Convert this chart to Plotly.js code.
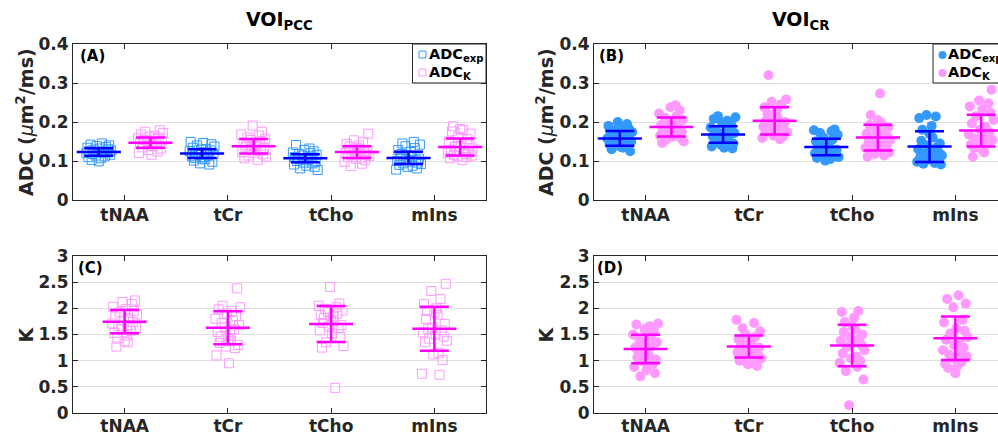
<!DOCTYPE html>
<html>
<head>
<meta charset="utf-8">
<script src="https://cdn.plot.ly/plotly-3.0.1.min.js"></script>
<style>
html,body{margin:0;padding:0;overflow:hidden;background:#fff;}
#chart{width:1012px;height:435px;}
</style>
</head>
<body>
<div id="chart"></div>
<script>
// ---------------- DATA ----------------
const CATS = ['tNAA', 'tCr', 'tCho', 'mIns'];
const CAT_POS = [1, 2, 3, 4];

// ADC (um^2/ms), VOI PCC, per metabolite (tNAA, tCr, tCho, mIns)
const PCC_ADC_EXP = [
  [0.145,0.142,0.140,0.138,0.136,0.134,0.132,0.130,0.129,0.127,0.126,0.125,0.124,0.122,0.121,0.120,0.118,0.116,0.114,0.112,0.110,0.107,0.103,0.099],
  [0.149,0.146,0.143,0.140,0.137,0.134,0.131,0.129,0.127,0.125,0.122,0.120,0.118,0.116,0.114,0.112,0.110,0.108,0.106,0.104,0.101,0.098,0.094,0.091],
  [0.141,0.132,0.128,0.125,0.122,0.120,0.118,0.116,0.114,0.112,0.110,0.108,0.106,0.104,0.102,0.100,0.098,0.096,0.094,0.091,0.088,0.085,0.081,0.077],
  [0.149,0.145,0.142,0.138,0.133,0.128,0.123,0.118,0.114,0.111,0.108,0.106,0.104,0.102,0.100,0.098,0.096,0.094,0.092,0.090,0.088,0.085,0.081,0.078]
];
const PCC_ADC_K = [
  [0.179,0.175,0.172,0.168,0.165,0.162,0.160,0.158,0.156,0.154,0.152,0.150,0.148,0.146,0.144,0.142,0.140,0.138,0.135,0.132,0.128,0.124,0.120,0.116],
  [0.191,0.175,0.168,0.165,0.160,0.157,0.154,0.150,0.147,0.144,0.141,0.139,0.137,0.135,0.132,0.129,0.126,0.123,0.120,0.117,0.114,0.111,0.107,0.103],
  [0.170,0.153,0.148,0.144,0.140,0.137,0.134,0.131,0.129,0.127,0.125,0.123,0.121,0.119,0.117,0.115,0.113,0.111,0.109,0.106,0.102,0.098,0.093,0.087],
  [0.189,0.182,0.179,0.176,0.170,0.162,0.156,0.150,0.145,0.140,0.136,0.132,0.129,0.126,0.124,0.122,0.120,0.118,0.116,0.114,0.112,0.110,0.107,0.103]
];
const PCC_EXP_MEAN = [0.123, 0.119, 0.107, 0.108];
const PCC_EXP_SD   = [0.0095, 0.011, 0.010, 0.0155];
const PCC_K_MEAN   = [0.147, 0.138, 0.123, 0.136];
const PCC_K_SD     = [0.013, 0.0185, 0.015, 0.022];

// ADC, VOI CR
const CR_ADC_EXP = [
  [0.200,0.195,0.190,0.186,0.182,0.178,0.174,0.170,0.167,0.164,0.161,0.158,0.155,0.152,0.150,0.148,0.146,0.144,0.142,0.140,0.137,0.134,0.130,0.125],
  [0.215,0.212,0.208,0.203,0.198,0.192,0.186,0.180,0.176,0.172,0.169,0.166,0.163,0.160,0.157,0.154,0.151,0.148,0.145,0.142,0.140,0.137,0.134,0.132],
  [0.181,0.179,0.176,0.172,0.167,0.160,0.155,0.150,0.146,0.142,0.138,0.135,0.132,0.129,0.126,0.123,0.120,0.117,0.114,0.112,0.110,0.108,0.105,0.101],
  [0.218,0.214,0.210,0.190,0.180,0.170,0.160,0.152,0.145,0.140,0.135,0.130,0.126,0.122,0.118,0.114,0.110,0.107,0.104,0.101,0.098,0.095,0.093,0.091]
];
const CR_ADC_K = [
  [0.243,0.238,0.230,0.222,0.215,0.210,0.205,0.200,0.196,0.192,0.189,0.186,0.183,0.180,0.177,0.174,0.171,0.168,0.165,0.162,0.159,0.155,0.150,0.146],
  [0.320,0.258,0.252,0.245,0.238,0.230,0.222,0.215,0.210,0.205,0.200,0.196,0.192,0.188,0.184,0.180,0.177,0.174,0.171,0.168,0.165,0.162,0.159,0.156],
  [0.273,0.218,0.205,0.198,0.192,0.186,0.180,0.175,0.170,0.166,0.162,0.158,0.154,0.150,0.146,0.142,0.138,0.134,0.130,0.126,0.122,0.118,0.114,0.111],
  [0.283,0.255,0.248,0.240,0.232,0.224,0.215,0.205,0.196,0.188,0.180,0.174,0.168,0.163,0.158,0.154,0.150,0.146,0.142,0.138,0.134,0.130,0.122,0.111]
];
const CR_EXP_MEAN = [0.158, 0.168, 0.136, 0.137];
const CR_EXP_SD   = [0.019, 0.021, 0.021, 0.0395];
const CR_K_MEAN   = [0.187, 0.203, 0.160, 0.178];
const CR_K_SD     = [0.0245, 0.035, 0.033, 0.0405];

// Kurtosis K
const PCC_KURT = [
  [2.15,2.12,2.08,2.03,1.99,1.95,1.92,1.88,1.84,1.80,1.77,1.74,1.71,1.68,1.66,1.63,1.60,1.57,1.53,1.48,1.42,1.37,1.35,1.27],
  [2.38,2.05,2.02,1.98,1.95,1.90,1.85,1.80,1.76,1.72,1.68,1.64,1.60,1.55,1.50,1.46,1.42,1.38,1.34,1.30,1.27,1.24,1.10,0.95],
  [2.41,2.09,2.05,2.02,1.99,1.96,1.93,1.90,1.87,1.84,1.81,1.78,1.75,1.72,1.68,1.65,1.62,1.58,1.52,1.45,1.35,1.28,1.25,0.48],
  [2.47,2.33,2.18,2.08,2.00,1.95,1.92,1.88,1.80,1.70,1.63,1.58,1.54,1.50,1.46,1.42,1.38,1.35,1.15,1.12,1.01,0.75,0.73,1.60]
];
const PCC_KURT_MEAN = [1.745, 1.63, 1.70, 1.61];
const PCC_KURT_SD   = [0.2225, 0.315, 0.344, 0.42];

const CR_KURT = [
  [1.71,1.69,1.66,1.60,1.55,1.50,1.45,1.40,1.35,1.32,1.28,1.25,1.22,1.18,1.14,1.10,1.06,1.02,0.98,0.93,0.88,0.82,0.76,0.70],
  [1.78,1.72,1.62,1.56,1.50,1.45,1.41,1.38,1.35,1.32,1.29,1.27,1.25,1.22,1.19,1.16,1.13,1.10,1.07,1.04,1.00,0.96,0.93,0.90],
  [1.95,1.93,1.82,1.74,1.66,1.60,1.55,1.50,1.45,1.42,1.38,1.34,1.30,1.26,1.20,1.14,1.08,1.04,1.00,0.96,0.88,0.80,0.64,0.15],
  [2.25,2.18,2.09,2.02,1.78,1.73,1.62,1.57,1.52,1.45,1.40,1.36,1.30,1.25,1.20,1.15,1.12,1.08,1.05,0.98,0.94,0.90,0.86,0.76]
];
const CR_KURT_MEAN = [1.223, 1.27, 1.29, 1.43];
const CR_KURT_SD   = [0.27, 0.21, 0.395, 0.415];

// ---------------- STYLE ----------------
const W = 1012, H = 435;
const FONT = 'DejaVu Sans';
const TXT = '#262626';
const BLUE_PT = '#3399ff', PINK_PT = '#ff99ff';
const BLUE_LN = '#0000ff', PINK_LN = '#ff00ff';
// fixed scatter (swarm) offsets used to spread points around each group centre
const JIT = [0.03,-0.08,0.10,-0.02,0.07,-0.11,0.01,0.09,-0.05,0.12,-0.09,0.04,-0.01,0.08,-0.12,0.05,-0.06,0.11,-0.03,0.06,-0.10,0.02,-0.07,0.00];

const px = v => v / W;
const py = v => 1 - v / H;

function pointsTrace(groups, shift, rot, xa, ya, symbol, size, color) {
  const x = [], y = [];
  groups.forEach((g, c) => {
    g.forEach((v, i) => {
      x.push(CAT_POS[c] + shift + JIT[(i + rot + c * 5) % JIT.length]);
      y.push(v);
    });
  });
  const open = symbol.indexOf('open') >= 0;
  return {
    type: 'scatter', mode: 'markers', x, y, xaxis: xa, yaxis: ya,
    hoverinfo: 'skip',
    marker: open
      ? {symbol, size, color, line: {color, width: 1}}
      : {symbol, size, color, line: {width: 0}}
  };
}
function statTrace(means, sds, shift, xa, ya, color) {
  return {
    type: 'scatter', mode: 'markers', xaxis: xa, yaxis: ya, hoverinfo: 'skip',
    x: CAT_POS.map(p => p + shift), y: means,
    marker: {symbol: 'line-ew', size: 31.5, color, line: {color, width: 2.5}},
    error_y: {type: 'data', array: sds, visible: true, color, thickness: 2.5, width: 14.5}
  };
}

const data = [
  pointsTrace(PCC_ADC_EXP, -0.25, 0, 'x', 'y', 'square-open', 9, BLUE_PT),
  pointsTrace(PCC_ADC_K, 0.25, 7, 'x', 'y', 'square-open', 9, PINK_PT),
  statTrace(PCC_EXP_MEAN, PCC_EXP_SD, -0.25, 'x', 'y', BLUE_LN),
  statTrace(PCC_K_MEAN, PCC_K_SD, 0.25, 'x', 'y', PINK_LN),

  pointsTrace(CR_ADC_EXP, -0.25, 3, 'x2', 'y2', 'circle', 10, BLUE_PT),
  pointsTrace(CR_ADC_K, 0.25, 11, 'x2', 'y2', 'circle', 10, PINK_PT),
  statTrace(CR_EXP_MEAN, CR_EXP_SD, -0.25, 'x2', 'y2', BLUE_LN),
  statTrace(CR_K_MEAN, CR_K_SD, 0.25, 'x2', 'y2', PINK_LN),

  pointsTrace(PCC_KURT, 0, 2, 'x3', 'y3', 'square-open', 9, PINK_PT),
  statTrace(PCC_KURT_MEAN, PCC_KURT_SD, 0, 'x3', 'y3', PINK_LN),

  pointsTrace(CR_KURT, 0, 9, 'x4', 'y4', 'circle', 10, PINK_PT),
  statTrace(CR_KURT_MEAN, CR_KURT_SD, 0, 'x4', 'y4', PINK_LN)
];

const tickfont = {family: FONT, size: 17, weight: 'bold', color: TXT};
function xax(dom, anchor, standoff) {
  return {domain: dom, anchor, range: [0.5, 4.5], tickvals: CAT_POS, ticktext: CATS,
    ticks: 'inside', ticklen: 5, tickwidth: 1, tickcolor: TXT, mirror: 'ticks',
    showline: true, linecolor: TXT, linewidth: 1, showgrid: false, zeroline: false,
    ticklabelstandoff: standoff || 0,
    tickfont, fixedrange: true};
}
function yax(dom, anchor, range, dtick) {
  return {domain: dom, anchor, range, dtick, tick0: 0,
    ticks: 'inside', ticklen: 5, tickwidth: 1, tickcolor: TXT, mirror: 'ticks',
    showline: true, linecolor: TXT, linewidth: 1, showgrid: true, gridcolor: '#dfdfdf', gridwidth: 1,
    zeroline: false, tickfont, fixedrange: true};
}
const XL = [px(73), px(486)], XR = [px(594), px(1007)];
const YT = [py(200), py(44)], YB = [py(413), py(256)];

const ann = (text, x, y, opts) => Object.assign({text, x: px(x), y: py(y), xref: 'paper', yref: 'paper',
  showarrow: false, xanchor: 'center', yanchor: 'middle'}, opts);
const f = (size, color) => ({family: FONT, size, weight: 'bold', color: color || '#000'});
const MU = 'ADC (<span style="font-weight:normal"><i>μ</i></span>m<sup>2</sup>/ms)';

const annotations = [
  ann('VOI<sub>PCC</sub>', 279.5, 21, {font: f(19)}),
  ann('VOI<sub>CR</sub>', 800.5, 21, {font: f(19)}),
  ann(MU, 25, 122, {textangle: -90, font: f(19, TXT)}),
  ann(MU, 545, 122, {textangle: -90, font: f(19, TXT)}),
  ann('K', 25, 334.5, {textangle: -90, font: f(19, TXT)}),
  ann('K', 545, 334.5, {textangle: -90, font: f(19, TXT)}),
  ann('(A)', 78, 56, {xanchor: 'left', font: f(15)}),
  ann('(B)', 597, 56, {xanchor: 'left', font: f(15)}),
  ann('(C)', 76, 268, {xanchor: 'left', font: f(15)}),
  ann('(D)', 595, 268, {xanchor: 'left', font: f(15)}),
  // legend labels
  ann('ADC<sub>exp</sub>', 427, 55, {xanchor: 'left', font: f(14.5)}),
  ann('ADC<sub>K</sub>', 427, 73, {xanchor: 'left', font: f(14.5)}),
  ann('ADC<sub>exp</sub>', 946, 55, {xanchor: 'left', font: f(14.5)}),
  ann('ADC<sub>K</sub>', 946, 73, {xanchor: 'left', font: f(14.5)})
];

const rect = (x0, y0, x1, y1, line, fill) => ({type: 'rect', xref: 'paper', yref: 'paper',
  x0: px(x0), x1: px(x1), y0: py(y1), y1: py(y0), line, fillcolor: fill, layer: 'above'});
const circ = (cx, cy, r, fill) => ({type: 'circle', xref: 'paper', yref: 'paper',
  x0: px(cx - r), x1: px(cx + r), y0: py(cy + r), y1: py(cy - r), line: {width: 0}, fillcolor: fill, layer: 'above'});

const shapes = [
  rect(412.5, 44, 486, 83, {color: TXT, width: 1}, '#ffffff'),
  rect(419, 51, 426, 58, {color: BLUE_PT, width: 1}, 'rgba(0,0,0,0)'),
  rect(419, 69, 426, 76, {color: PINK_PT, width: 1}, 'rgba(0,0,0,0)'),
  rect(933, 44, 1015, 83, {color: TXT, width: 1}, '#ffffff'),
  circ(942.5, 55, 4, BLUE_PT),
  circ(942.5, 73, 4, PINK_PT)
];

const layout = {
  width: W, height: H, margin: {l: 0, r: 0, t: 0, b: 0},
  paper_bgcolor: '#ffffff', plot_bgcolor: '#ffffff', showlegend: false,
  xaxis: xax(XL, 'y'), yaxis: yax(YT, 'x', [0, 0.4], 0.1),
  xaxis2: xax(XR, 'y2'), yaxis2: yax(YT, 'x2', [0, 0.4], 0.1),
  xaxis3: xax(XL, 'y3', -2), yaxis3: yax(YB, 'x3', [0, 3], 0.5),
  xaxis4: xax(XR, 'y4', -2), yaxis4: yax(YB, 'x4', [0, 3], 0.5),
  annotations, shapes
};

Plotly.newPlot('chart', data, layout, {staticPlot: true, displayModeBar: false});
</script>
</body>
</html>
